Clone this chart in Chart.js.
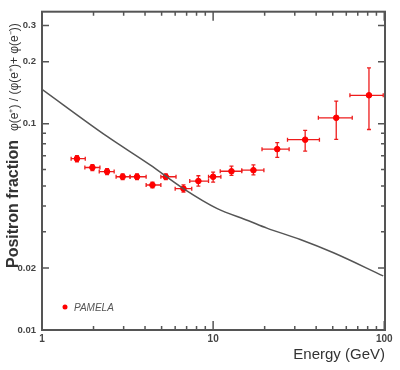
<!DOCTYPE html>
<html lang="en">
  <head>
    <meta charset="UTF-8" />
    <title>Positron fraction</title>
    <script src="https://cdn.jsdelivr.net/npm/chart.js"></script>
    <style>
      body { margin: 0; background: #fff; }
    </style>
  </head>
  <body>
    <canvas id="myChart" width="400" height="370"></canvas>
    <script>
      // PAMELA points: energy (GeV), fraction, bin edges and error range
      const energy = [1.60, 1.97, 2.40, 2.96, 3.59, 4.42, 5.29, 6.71, 8.2, 10.0, 12.8, 17.2, 23.7, 34.5, 52.4, 81.4];
      const fraction = [0.0678, 0.0614, 0.0587, 0.0554, 0.0554, 0.0505, 0.0554, 0.0485, 0.0528, 0.0554, 0.0589, 0.0596, 0.0754, 0.0838, 0.107, 0.1376];
      const eLow = [1.48, 1.78, 2.16, 2.71, 3.27, 4.06, 4.95, 6.0, 7.3, 9.4, 11.0, 14.7, 19.3, 27.2, 41.2, 63.0];
      const eHigh = [1.79, 2.18, 2.64, 3.27, 4.06, 4.95, 6.07, 7.5, 9.4, 11.1, 14.7, 19.8, 27.8, 41.8, 65.0, 98.6];
      const fLow = [0.0655, 0.0594, 0.0568, 0.0536, 0.0536, 0.0489, 0.0537, 0.0466, 0.0499, 0.0522, 0.0563, 0.0566, 0.0688, 0.0737, 0.0841, 0.0939];
      const fHigh = [0.0701, 0.0634, 0.0606, 0.0572, 0.0572, 0.0522, 0.0572, 0.0506, 0.0560, 0.0583, 0.0623, 0.0633, 0.0811, 0.0929, 0.129, 0.187];

      // secondary production curve
      const curveE = [1.0, 2.39, 4.28, 6.70, 10.5, 16.1, 20.6, 32.3, 50.5, 98.6];
      const curveF = [0.147, 0.0871, 0.0632, 0.0485, 0.0389, 0.0339, 0.0312, 0.0275, 0.0237, 0.0183];

      const xTicks = [1, 10, 100];
      const xTickLabels = ['1', '10', '100'];
      const yTicks = [0.01, 0.02, 0.1, 0.2, 0.3];
      const yTickLabels = ['0.01', '0.02', '0.1', '0.2', '0.3'];
      const xMinor = [2, 3, 4, 5, 6, 7, 8, 9, 20, 30, 40, 50, 60, 70, 80, 90];
      const yMinor = [0.03, 0.04, 0.05, 0.06, 0.07, 0.08, 0.09];

      const font = 'Liberation Sans';

      const errorBars = {
        id: 'errorBars',
        beforeDatasetsDraw(chart) {
          const { ctx, scales: { x, y } } = chart;
          ctx.save();
          ctx.strokeStyle = '#ee1c1c';
          ctx.lineWidth = 1.3;
          energy.forEach((e, i) => {
            const px = x.getPixelForValue(e);
            const py = y.getPixelForValue(fraction[i]);
            const x0 = x.getPixelForValue(eLow[i]);
            const x1 = x.getPixelForValue(eHigh[i]);
            const y0 = y.getPixelForValue(fLow[i]);
            const y1 = y.getPixelForValue(fHigh[i]);
            ctx.beginPath();
            ctx.moveTo(x0, py); ctx.lineTo(x1, py);
            ctx.moveTo(x0, py - 2); ctx.lineTo(x0, py + 2);
            ctx.moveTo(x1, py - 2); ctx.lineTo(x1, py + 2);
            ctx.moveTo(px, y0); ctx.lineTo(px, y1);
            ctx.moveTo(px - 2, y0); ctx.lineTo(px + 2, y0);
            ctx.moveTo(px - 2, y1); ctx.lineTo(px + 2, y1);
            ctx.stroke();
          });
          ctx.restore();
        }
      };

      const frame = {
        id: 'frame',
        afterDraw(chart) {
          const { ctx, chartArea: a, scales: { x, y } } = chart;
          ctx.save();
          ctx.strokeStyle = '#555';
          ctx.lineWidth = 1.5;
          ctx.beginPath();
          xTicks.concat(xMinor).forEach(v => {
            const px = x.getPixelForValue(v);
            const len = xTicks.includes(v) ? 9 : 4;
            ctx.moveTo(px, a.bottom); ctx.lineTo(px, a.bottom - len);
            ctx.moveTo(px, a.top); ctx.lineTo(px, a.top + len);
          });
          yTicks.concat(yMinor).forEach(v => {
            const py = y.getPixelForValue(v);
            const len = yTicks.includes(v) ? 7 : 4;
            ctx.moveTo(a.left, py); ctx.lineTo(a.left + len, py);
            ctx.moveTo(a.right, py); ctx.lineTo(a.right - len, py);
          });
          ctx.stroke();
          ctx.lineWidth = 2;
          ctx.strokeRect(a.left, a.top, a.right - a.left, a.bottom - a.top);

          // legend
          ctx.fillStyle = '#f00';
          ctx.beginPath();
          ctx.arc(65, 307, 2.5, 0, Math.PI * 2);
          ctx.fill();
          ctx.fillStyle = '#555';
          ctx.font = 'italic 10px ' + font;
          ctx.textBaseline = 'middle';
          ctx.fillText('PAMELA', 74, 308);

          // y axis title
          ctx.translate(18, 268);
          ctx.rotate(-Math.PI / 2);
          ctx.textBaseline = 'alphabetic';
          ctx.fillStyle = '#333';
          ctx.font = 'bold 16px ' + font;
          ctx.fillText('Positron fraction', 0, 0);
          const w = ctx.measureText('Positron fraction').width;
          ctx.font = '12px ' + font;
          ctx.fillText('\u03c6(e\u207a) / (\u03c6(e\u207a)+ \u03c6(e\u207b))', w + 9, 0);
          ctx.restore();
        }
      };

      const ctx = document.getElementById('myChart').getContext('2d');
      const myChart = new Chart(ctx, {
        type: 'scatter',
        data: {
          datasets: [
            {
              label: 'secondary',
              data: curveE.map((e, i) => ({ x: e, y: curveF[i] })),
              showLine: true,
              cubicInterpolationMode: 'monotone',
              borderColor: '#555',
              borderWidth: 1.5,
              pointRadius: 0
            },
            {
              label: 'PAMELA',
              data: energy.map((e, i) => ({ x: e, y: fraction[i] })),
              backgroundColor: '#f00',
              borderColor: '#f00',
              pointRadius: 2.8
            }
          ]
        },
        options: {
          responsive: false,
          animation: false,
          layout: { padding: { top: 7, right: 15, left: 0, bottom: 0 } },
          plugins: { legend: { display: false }, tooltip: { enabled: false } },
          scales: {
            x: {
              type: 'logarithmic',
              min: 1,
              max: 101,
              afterBuildTicks: s => { s.ticks = xTicks.map(v => ({ value: v })); },
              afterFit: s => { s.height = 40; },
              grid: { display: false, drawTicks: false },
              border: { display: false },
              ticks: {
                autoSkip: false,
                maxRotation: 0,
                padding: 3,
                color: '#444',
                font: { family: font, size: 10, weight: 'bold' },
                callback: v => xTickLabels[xTicks.indexOf(v)]
              },
              title: {
                display: true,
                text: 'Energy (GeV)',
                align: 'end',
                color: '#333',
                font: { family: font, size: 15 },
                padding: { top: 0, bottom: 6 }
              }
            },
            y: {
              type: 'logarithmic',
              min: 0.01,
              max: 0.35,
              afterBuildTicks: s => { s.ticks = yTicks.map(v => ({ value: v })); },
              afterFit: s => { s.width = 42; },
              grid: { display: false, drawTicks: false },
              border: { display: false },
              ticks: {
                autoSkip: false,
                padding: 6,
                color: '#444',
                font: { family: font, size: 9.5, weight: 'bold' },
                callback: v => yTickLabels[yTicks.indexOf(v)]
              }
            }
          }
        },
        plugins: [errorBars, frame]
      });
    </script>
  </body>
</html>
